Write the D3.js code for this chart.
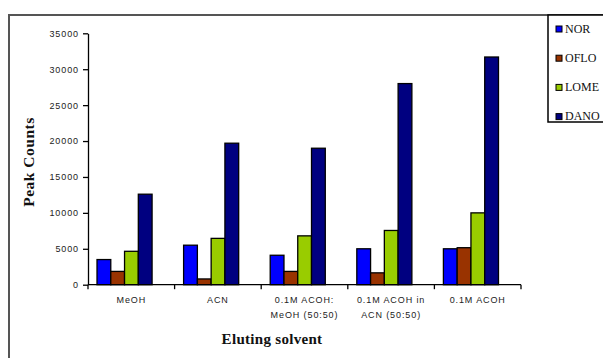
<!DOCTYPE html>
<html>
<head>
<meta charset="utf-8">
<script src="https://cdn.jsdelivr.net/npm/d3@7"></script>
<style>
  html, body { margin: 0; padding: 0; background: #fff; }
  svg { display: block; }
</style>
</head>
<body>
<svg id="chart" width="603" height="358"></svg>
<script>
// Eluting solvents (each label split into its printed lines)
const categories = [
  ["MeOH"],
  ["ACN"],
  ["0.1M ACOH:", "MeOH (50:50)"],
  ["0.1M ACOH in", "ACN (50:50)"],
  ["0.1M ACOH"]
];
const seriesNames = ["NOR", "OFLO", "LOME", "DANO"];
const seriesColors = ["#0000ff", "#993300", "#99cc00", "#000080"];

// Peak counts per solvent, one array per compound
const NOR  = [3500, 5500, 4100, 5000, 5000];
const OFLO = [1850,  800, 1850, 1650, 5150];
const LOME = [4650, 6450, 6800, 7550, 10000];
const DANO = [12600, 19700, 19000, 28000, 31700];
const seriesValues = [NOR, OFLO, LOME, DANO];

const yTicks = [0, 5000, 10000, 15000, 20000, 25000, 30000, 35000];

const svg = d3.select("#chart");

// outer chart frame
svg.append("path")
  .attr("d", "M9,360 L9,15 L605,15")
  .attr("fill", "none")
  .attr("stroke", "#555")
  .attr("stroke-width", 2);

const plot = { left: 88, right: 521, top: 33.3, bottom: 284.7 };

const x = d3.scaleBand()
  .domain(categories.map((c, i) => i))
  .range([plot.left, plot.right])
  .paddingInner(0).paddingOuter(0);

const bw = x.bandwidth();
const inner = d3.scaleBand()
  .domain(seriesNames)
  .range([bw * 0.104, bw * 0.74])
  .padding(0);

const y = d3.scaleLinear()
  .domain([0, 35000])
  .range([plot.bottom, plot.top]);

// bars
const groups = svg.append("g").selectAll("g")
  .data(categories.map((c, i) => i))
  .join("g")
  .attr("transform", i => `translate(${x(i)},0)`);

groups.selectAll("rect")
  .data(i => seriesNames.map((s, k) => ({ s, k, v: seriesValues[k][i] })))
  .join("rect")
  .attr("x", d => inner(d.s))
  .attr("width", inner.bandwidth())
  .attr("y", d => y(d.v))
  .attr("height", d => y(0) - y(d.v))
  .attr("fill", d => seriesColors[d.k])
  .attr("stroke", "#000")
  .attr("stroke-width", 1.3);

// y axis
const yAxis = svg.append("g")
  .attr("transform", `translate(${plot.left},0)`)
  .call(d3.axisLeft(y).tickValues(yTicks).tickFormat(d3.format("d"))
    .tickSize(5).tickPadding(4).tickSizeOuter(0));
yAxis.select(".domain").attr("stroke", "#000").attr("stroke-width", 1.3);
yAxis.selectAll(".tick line").attr("stroke", "#000").attr("stroke-width", 1.3);
yAxis.selectAll(".tick text")
  .attr("font-family", "Arial, 'Liberation Sans', sans-serif")
  .attr("font-size", 9)
  .attr("letter-spacing", "0.9px")
  .attr("fill", "#222");

// x axis line and category boundary ticks
const xAxis = svg.append("g");
xAxis.append("line")
  .attr("x1", plot.left).attr("x2", plot.right)
  .attr("y1", y(0)).attr("y2", y(0))
  .attr("stroke", "#000").attr("stroke-width", 1.3);
const bounds = categories.map((c, i) => x(i)).concat([x.range()[1]]);
xAxis.selectAll("line.tk")
  .data(bounds)
  .join("line")
  .attr("class", "tk")
  .attr("x1", d => d).attr("x2", d => d)
  .attr("y1", y(0)).attr("y2", y(0) + 4.5)
  .attr("stroke", "#000").attr("stroke-width", 1.3);

// category labels
xAxis.selectAll("text.cat")
  .data(categories.map((c, i) => ({ c, i })))
  .join("text")
  .attr("class", "cat")
  .attr("x", d => x(d.i) + bw / 2)
  .attr("y", y(0) + 18)
  .attr("text-anchor", "middle")
  .attr("font-family", "Arial, 'Liberation Sans', sans-serif")
  .attr("font-size", 9)
  .attr("letter-spacing", "0.9px")
  .attr("fill", "#222")
  .selectAll("tspan")
  .data(d => d.c.map(line => ({ line, cx: x(d.i) + bw / 2 })))
  .join("tspan")
  .attr("x", d => d.cx)
  .attr("dy", (d, k) => k === 0 ? 0 : 15)
  .text(d => d.line);

// axis titles
svg.append("text")
  .attr("transform", "translate(34,162) rotate(-90)")
  .attr("text-anchor", "middle")
  .attr("font-family", "'Liberation Serif', 'Times New Roman', serif")
  .attr("font-weight", "bold")
  .attr("font-size", 15.5)
  .attr("letter-spacing", "0.5px")
  .attr("fill", "#111")
  .text("Peak Counts");

svg.append("text")
  .attr("x", 272)
  .attr("y", 344)
  .attr("text-anchor", "middle")
  .attr("font-family", "'Liberation Serif', 'Times New Roman', serif")
  .attr("font-weight", "bold")
  .attr("font-size", 15)
  .attr("letter-spacing", "0.3px")
  .attr("fill", "#111")
  .text("Eluting solvent");

// legend
const legend = svg.append("g");
legend.append("rect")
  .attr("x", 548).attr("y", 15)
  .attr("width", 70).attr("height", 107)
  .attr("fill", "#fff")
  .attr("stroke", "#000")
  .attr("stroke-width", 1.5);

const legendItems = legend.selectAll("g.item")
  .data(seriesNames.map((s, k) => ({ s, k })))
  .join("g")
  .attr("class", "item")
  .attr("transform", d => `translate(556,${29 + d.k * 29.2})`);
legendItems.append("rect")
  .attr("x", 0).attr("y", -3)
  .attr("width", 6).attr("height", 6)
  .attr("fill", d => seriesColors[d.k])
  .attr("stroke", "#000")
  .attr("stroke-width", 1);
legendItems.append("text")
  .attr("x", 9).attr("y", 3.8)
  .attr("font-family", "'Liberation Serif', 'Times New Roman', serif")
  .attr("font-size", 12)
  .attr("fill", "#111")
  .text(d => d.s);
</script>
</body>
</html>
